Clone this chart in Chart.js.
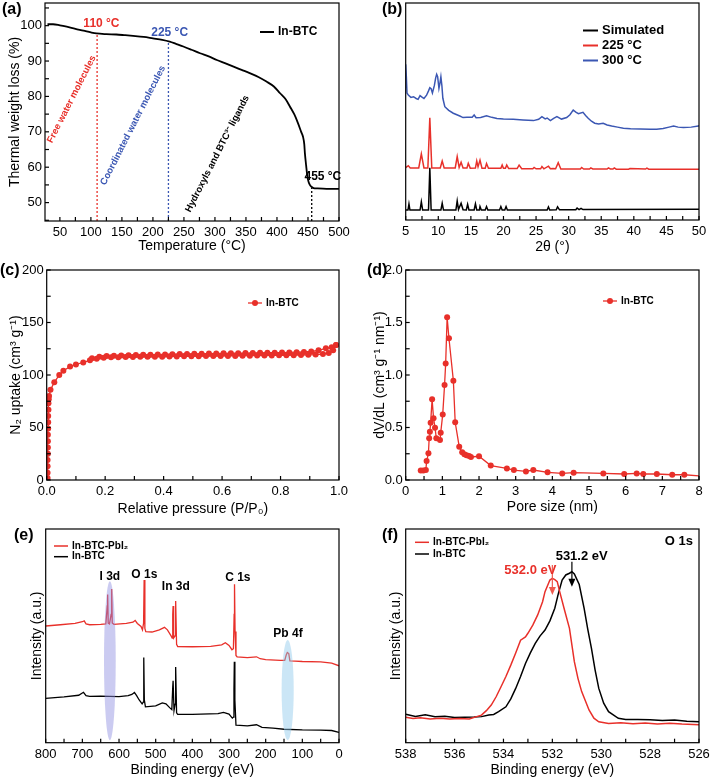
<!DOCTYPE html>
<html>
<head>
<meta charset="utf-8">
<script src="https://cdn.jsdelivr.net/npm/chart.js@4.4.0/dist/chart.umd.min.js"></script>
<style>
body { margin: 0; background: #fff; }
#wrap { position: relative; width: 710px; height: 779px; }
canvas { position: absolute; }
</style>
</head>
<body>
<div id="wrap">
  <canvas id="ca" width="355" height="256" style="left:0;top:0"></canvas>
  <canvas id="cb" width="355" height="256" style="left:355px;top:0"></canvas>
  <canvas id="cc" width="355" height="264" style="left:0;top:255px"></canvas>
  <canvas id="cd" width="355" height="264" style="left:355px;top:255px"></canvas>
  <canvas id="ce" width="355" height="264" style="left:0;top:515px"></canvas>
  <canvas id="cf" width="355" height="264" style="left:355px;top:515px"></canvas>
</div>
<script>
// ---- (a) TGA
const tgaTemp = [30,39,50,61,75,88,100,109,125,141,155,168,185,200,215,227,238,249,262,276,290,303,316,330,343,356,370,383,395,405,414,421,428,434,439,442,444,445,447,449,451,453,456,459,465,480,500];
const tgaWeight = [100.4,100.4,100.1,99.7,99.1,98.6,98.1,97.8,97.6,97.5,97.3,97.1,96.8,96.4,96.0,95.5,94.8,94.1,93.2,92.2,91.3,90.3,89.4,88.4,87.5,86.6,85.5,84.2,82.8,80.9,79.2,77.1,74.9,72.4,70.0,68.6,66.5,64.0,60.5,57.4,55.8,55.0,54.4,54.1,54.0,53.9,53.9];
const stepTemps = [110, 225, 456];      // dashed markers
const stepTops = [97.8, 95.6, 54.1];

// ---- (b) PXRD, offset traces (arbitrary units)
const xrdSim = [[5,4.6],[5.35,4.6],[5.5,7.4],[5.65,4.6],[7.2,4.6],[7.4,8.4],[7.6,4.6],[8.5,4.6],[8.7,24.1],[8.9,4.6],[10.4,4.6],[10.6,7.7],[10.8,4.6],[12.7,4.6],[12.9,8.8],[13.1,4.8],[13.5,7.7],[13.8,4.7],[14.3,4.6],[14.5,7.2],[14.7,4.6],[15.5,4.6],[15.7,7.4],[15.9,4.6],[16.3,4.6],[16.4,6.2],[16.6,4.6],[17.2,4.6],[17.4,6.2],[17.6,4.6],[19.4,4.6],[19.6,6.2],[19.8,4.6],[20.2,4.6],[20.4,6.2],[20.6,4.6],[26.7,4.6],[26.9,6],[27.1,4.6],[28.1,4.7],[28.3,6.1],[28.6,4.7],[31.1,4.7],[31.3,5.5],[31.6,4.8],[31.9,5.4],[32.2,4.8],[50,4.9]];
const xrd225 = [[5,24.1],[5.4,25],[5.7,24],[7,24],[7.4,30.5],[7.8,24],[8.4,24],[8.7,47.1],[9,24],[10.3,24],[10.6,27.2],[10.9,24],[12.6,24],[12.9,29.2],[13.2,24.2],[13.5,26.6],[13.8,24],[14.4,24],[14.6,26.1],[14.9,23.9],[15.7,24],[15.9,27.2],[16.1,24.5],[16.4,27.6],[16.7,23.9],[17.2,23.9],[17.4,26],[17.7,23.8],[19.6,23.8],[19.8,25.3],[20.0,23.8],[20.3,23.8],[20.5,25.3],[20.8,23.7],[22.1,23.7],[22.4,25.3],[22.8,23.6],[24.5,23.6],[24.7,24.2],[25,23.6],[25.7,23.6],[25.9,24.6],[26.2,23.6],[26.9,24.8],[27.2,23.6],[27.6,23.7],[28.0,23.6],[28.4,26.4],[28.8,23.5],[31.8,23.5],[32,24.2],[32.3,23.5],[33.2,23.5],[33.4,24],[33.7,23.5],[35.9,23.5],[36.1,24],[36.4,23.5],[36.8,23.5],[37,24],[37.3,23.4],[39.2,23.4],[39.4,23.7],[41.8,23.5],[42,23.9],[42.3,23.4],[50,23.4]];
const xrd300 = [[5,71.7],[5.1,66],[5.2,58.5],[5.4,57.6],[5.8,56.5],[6.2,56.8],[6.6,56],[6.9,55.6],[7.2,57.3],[7.5,56.6],[7.8,56],[8.2,57.5],[8.5,59.5],[8.7,61],[8.9,60.5],[9.1,58.5],[9.4,62],[9.6,65.5],[9.75,67.1],[9.9,66],[10.1,60.7],[10.25,63],[10.4,66],[10.55,62],[10.7,56.1],[11,52.2],[11.6,50.5],[12.3,49.2],[13.3,47.9],[13.8,47.2],[14.4,47.3],[15.2,47.4],[15.5,48.4],[15.8,47.1],[16.5,47.2],[17.4,48],[18.2,47.3],[19,46.8],[20,46.6],[21.5,46.4],[23,46.1],[24.6,45.8],[25.4,46.4],[25.9,47.6],[26.4,46.6],[26.7,47],[27.2,45.8],[27.7,46.8],[28.2,47.6],[28.9,46.5],[29.7,47.2],[30.2,48.5],[30.7,50.7],[31.1,49.7],[31.5,49],[32.2,49.6],[32.6,48.2],[33,46.9],[33.5,45.5],[34,44.6],[34.6,44.2],[35.3,44.6],[35.9,43.8],[36.6,43.3],[37.5,42.8],[38.4,42.3],[39.5,42],[41,41.9],[42.5,41.8],[43.5,41.8],[44.5,42.2],[45.4,42.8],[46.1,43.3],[46.8,42.8],[47.6,42.6],[48.8,42.8],[49.9,43.3],[50,43.5]];

// ---- (c) N2 isotherm
const adsP = [0.003,0.003,0.003,0.003,0.004,0.004,0.004,0.004,0.005,0.005,0.005,0.006,0.006,0.007,0.008,0.013,0.026,0.043,0.057,0.08,0.1,0.125,0.148,0.171,0.195,0.22,0.245,0.27,0.295,0.32,0.345,0.37,0.395,0.42,0.445,0.47,0.495,0.52,0.545,0.57,0.595,0.62,0.645,0.67,0.695,0.72,0.745,0.77,0.795,0.82,0.845,0.87,0.895,0.92,0.945,0.965,0.98,0.99];
const adsV = [2,7,13,19,25,31,37,43,49,55,61,67,73,77,80,86,93,100,104,108,110,112,114,115.5,116.5,116.8,117,117.1,117.2,117.3,117.4,117.5,117.5,117.6,117.7,117.8,117.8,117.9,118,118,118.1,118.2,118.2,118.3,118.4,118.5,118.5,118.6,118.7,118.8,118.9,119,119.2,119.5,120,121,123.5,128.5];
const desP = [0.99,0.975,0.955,0.93,0.905,0.88,0.855,0.83,0.805,0.78,0.755,0.73,0.705,0.68,0.655,0.63,0.605,0.58,0.555,0.53,0.505,0.48,0.455,0.43,0.405,0.38,0.355,0.33,0.305,0.28,0.255,0.23,0.205,0.18,0.155];
const desV = [128.5,126.5,125.4,123.5,122.4,122,121.7,121.5,121.4,121.3,121.2,121.1,121,120.9,120.8,120.7,120.6,120.5,120.4,120.3,120.2,120,119.9,119.8,119.6,119.5,119.3,119.2,119,118.8,118.6,118.3,118,117.3,116];

// ---- (d) pore size distribution
const poreSize = [0.41,0.48,0.55,0.57,0.62,0.64,0.66,0.68,0.72,0.76,0.80,0.835,0.935,0.955,1.01,1.06,1.09,1.13,1.18,1.30,1.35,1.46,1.54,1.60,1.66,1.73,1.78,2.0,2.32,2.76,2.95,3.28,3.48,3.87,4.27,4.58,5.39,5.96,6.30,6.48,6.85,7.27,7.60,8.0];
const poreDV = [0.09,0.09,0.095,0.18,0.254,0.397,0.46,0.546,0.768,0.587,0.498,0.397,0.38,0.45,0.625,0.905,1.11,1.55,1.35,0.946,0.55,0.317,0.264,0.245,0.235,0.229,0.219,0.226,0.137,0.11,0.095,0.082,0.095,0.073,0.063,0.07,0.063,0.057,0.063,0.057,0.057,0.05,0.05,0.04];

// ---- (e) XPS survey (offset, arbitrary units)
const surveyPbI2 = [[800,54.6],[760,55.2],[720,55.8],[700,56.6],[695,57],[690,55.6],[680,55.2],[650,55.4],[636,55.6],[632,64],[631,69.4],[629.5,56],[626,55.6],[621.5,60],[620,71.9],[618.5,56],[614,55.4],[580,55.8],[562,56.4],[556,57.2],[550,55.8],[540,54.4],[536,52.8],[533,56],[531.5,76.1],[529.5,53.5],[527,52],[510,51.8],[490,52.8],[476,54],[468,52.8],[458,50],[455,49],[453.5,60],[452.5,64],[451,49],[447,50],[445.5,66.3],[443,46],[440,45],[400,44.9],[350,45.1],[320,45.8],[310,46.8],[300,45.5],[292,43.5],[288,44],[286,60],[285,74.1],[283.5,52],[281,40.8],[278,40.2],[250,39.8],[225,40.2],[215,39.3],[200,38.9],[160,38.5],[148,38.5],[144,41],[141,42.2],[137,41.7],[134,38.3],[120,38.2],[100,38],[50,37.8],[20,37.2],[0,36]];
const surveyBTC = [[800,20.7],[750,21.4],[710,22.2],[697,23.6],[690,22],[680,21.7],[650,21.8],[600,21.6],[575,22],[565,22.6],[558,23.5],[552,22],[545,20],[537,18.2],[534,19],[532.5,39.9],[531,20],[528,16.8],[500,17.2],[482,18.6],[472,18.2],[462,16.4],[456,15.5],[453.5,26],[452.5,29],[450,15],[447,18],[445.5,35.4],[443,14],[440,13.3],[400,13.3],[330,13.6],[315,14.2],[300,13.4],[291,11.5],[288,12],[286.5,25],[285.5,37.9],[284,20],[281,8.2],[270,8.1],[250,7.9],[225,8.4],[210,7.2],[180,6.8],[150,6.3],[100,6],[50,5.9],[20,5.7],[0,4.8]];

// ---- (f) O 1s
const o1sPbI2 = [[538,11.9],[537.7,11.3],[537.4,11.7],[537,11.1],[536.6,11.4],[536.2,11.1],[535.8,11.3],[535.4,11.1],[535.1,12.2],[534.9,12.9],[534.7,15],[534.5,17.6],[534.3,21.5],[534.1,26.2],[533.9,31],[533.7,36.3],[533.5,42],[533.3,48],[533.1,49.5],[533.0,51.2],[532.8,55],[532.6,59.8],[532.4,66],[532.3,70.7],[532.1,76.1],[532.0,76.9],[531.9,76.3],[531.8,75.4],[531.7,70.7],[531.5,62],[531.3,53.5],[531.1,37.9],[530.95,30],[530.8,23.9],[530.5,15.3],[530.3,11.5],[530.1,9.8],[529.7,9],[529.2,9.3],[528.7,8.9],[528.2,9.2],[527.7,8.8],[527.2,9.1],[526.7,8.7],[526,8.4]];
const o1sBTC = [[538,13.3],[537.6,12.3],[537.2,13.1],[536.8,12.2],[536.4,12.4],[536,11.8],[535.6,11.9],[535.2,12],[534.9,12.2],[534.6,13],[534.4,13.2],[534.2,14.5],[533.9,16.8],[533.7,20.5],[533.5,25.4],[533.3,31],[533.1,37.1],[532.9,42],[532.7,46.5],[532.5,50],[532.3,52.7],[532.1,57],[531.9,62.9],[531.75,70],[531.6,76.1],[531.45,78.5],[531.3,79.3],[531.2,80],[531.1,79],[530.9,74],[530.7,62.9],[530.55,53],[530.4,44.1],[530.25,34],[530.1,25.4],[529.9,18.5],[529.7,14.5],[529.3,11.4],[529,10.9],[528.5,10.9],[528,10.7],[527.5,10.4],[527,10.6],[526.5,10],[526,9.8]];

const FONT = "'Liberation Sans', Arial, Helvetica, sans-serif";
Chart.defaults.font.family = FONT;
Chart.defaults.color = '#000';
const RED = '#e8302a', BLUE = '#3b57b3', BLACK = '#000';

function pts(xs, ys) { return xs.map((x, i) => ({x: x, y: ys[i]})); }
function pairs(a) { return a.map(p => ({x: p[0], y: p[1]})); }
function steps(a, b, st) { const r = []; for (let v = a; v <= b + 1e-9; v += st) r.push(+v.toFixed(4)); return r; }
function every(step, dec) {
  return v => Math.abs(v / step - Math.round(v / step)) < 1e-6 ? v.toFixed(dec) : '';
}

function xAxis(o) {
  return {
    type: 'linear', min: o.min, max: o.max, reverse: !!o.reverse,
    grid: {display: false, drawTicks: false}, border: {display: false},
    afterBuildTicks: s => { s.ticks = o.ticks.map(v => ({value: v})); },
    ticks: {autoSkip: false, maxRotation: 0, padding: 4, font: {size: 13}, callback: o.label},
    title: {display: true, text: o.title, font: {size: 14}, padding: {top: 0, bottom: o.tp}},
    afterFit: s => { s.height = o.h; s.paddingLeft = 0; s.paddingRight = 0; }
  };
}
function yAxis(o) {
  return {
    type: 'linear', min: o.min, max: o.max,
    grid: {display: false, drawTicks: false}, border: {display: false},
    afterBuildTicks: s => { if (o.ticks) s.ticks = o.ticks.map(v => ({value: v})); },
    ticks: {display: !!o.ticks, autoSkip: false, padding: 3, font: {size: 13}, callback: o.label},
    title: {display: !!o.title, text: o.title, font: {size: 14}, padding: {top: o.tp, bottom: 0}},
    afterFit: s => { s.width = o.w; s.paddingTop = 0; s.paddingBottom = 0; }
  };
}

// frame, inward ticks, notes, legends
const deco = {
  id: 'deco',
  afterDatasetsDraw(chart, args, o) {
    const ctx = chart.ctx, a = chart.chartArea, sx = chart.scales.x, sy = chart.scales.y;
    ctx.save();
    (o.ellipses || []).forEach(e => {
      const cx = sx.getPixelForValue(e.x), cy = sy.getPixelForValue(e.y);
      const rx = Math.abs(sx.getPixelForValue(e.x + e.rx) - cx);
      const ry = Math.abs(sy.getPixelForValue(e.y + e.ry) - cy);
      ctx.fillStyle = e.color;
      ctx.beginPath(); ctx.ellipse(cx, cy, rx, ry, 0, 0, Math.PI * 2); ctx.fill();
    });
    ctx.strokeStyle = '#000'; ctx.lineWidth = 1.2;
    ctx.strokeRect(a.left, a.top, a.right - a.left, a.bottom - a.top);
    [sx, sy].forEach(s => {
      if (!s.options.display || !s.options.ticks.display) return;
      s.ticks.forEach(t => {
        const p = s.getPixelForValue(t.value);
        ctx.beginPath();
        if (s.isHorizontal()) { ctx.moveTo(p, a.bottom); ctx.lineTo(p, a.bottom - 4); }
        else { ctx.moveTo(a.left, p); ctx.lineTo(a.left + 4, p); }
        ctx.stroke();
      });
    });
    (o.arrows || []).forEach(r => {
      const x = sx.getPixelForValue(r.x), y1 = sy.getPixelForValue(r.y1), y2 = sy.getPixelForValue(r.y2);
      ctx.strokeStyle = r.color; ctx.fillStyle = r.color; ctx.lineWidth = 1.2;
      ctx.beginPath(); ctx.moveTo(x, y1); ctx.lineTo(x, y2 - 5); ctx.stroke();
      ctx.beginPath(); ctx.moveTo(x - 3.5, y2 - 8); ctx.lineTo(x + 3.5, y2 - 8); ctx.lineTo(x, y2); ctx.closePath(); ctx.fill();
    });
    (o.texts || []).forEach(t => {
      const x = t.px !== undefined ? t.px : sx.getPixelForValue(t.x);
      const y = t.py !== undefined ? t.py : sy.getPixelForValue(t.y);
      ctx.save();
      ctx.translate(x, y);
      if (t.rot) ctx.rotate(t.rot * Math.PI / 180);
      ctx.font = t.font || 'bold 12px ' + FONT;
      ctx.fillStyle = t.color || '#000';
      ctx.textAlign = t.align || 'center';
      ctx.textBaseline = 'middle';
      ctx.fillText(t.text, 0, 0);
      ctx.restore();
    });
    if (o.legend) {
      const L = o.legend;
      L.items.forEach((it, i) => {
        const y = L.y + i * L.dy;
        ctx.strokeStyle = it.color; ctx.lineWidth = L.lw || 1.5;
        ctx.beginPath(); ctx.moveTo(L.x, y); ctx.lineTo(L.x + L.len, y); ctx.stroke();
        if (it.marker) {
          ctx.fillStyle = it.color;
          ctx.beginPath(); ctx.arc(L.x + L.len / 2, y, 3, 0, Math.PI * 2); ctx.fill();
        }
        ctx.fillStyle = '#000'; ctx.font = L.font; ctx.textAlign = 'left'; ctx.textBaseline = 'middle';
        ctx.fillText(it.text, L.x + L.len + 4, y);
      });
    }
    ctx.restore();
  }
};

function base(pad, plug, scales, datasets) {
  return {
    type: 'scatter',
    data: {datasets: datasets},
    plugins: [deco],
    options: {
      responsive: false, animation: false, events: [],
      layout: {padding: pad},
      plugins: {legend: {display: false}, tooltip: {enabled: false}, deco: plug},
      scales: scales
    }
  };
}
function line(data, color, w) {
  return {data: data, showLine: true, borderColor: color, backgroundColor: color, borderWidth: w, pointRadius: 0};
}
function dashed(x, top, bottom, color) {
  return {data: [{x: x, y: bottom}, {x: x, y: top}], showLine: true, borderColor: color, borderWidth: 1.3, borderDash: [2, 2], pointRadius: 0};
}

// (a)
const aCurve = line(pts(tgaTemp, tgaWeight), BLACK, 1.8);
aCurve.cubicInterpolationMode = 'monotone';
new Chart(document.getElementById('ca'), base(
  {top: 3, right: 16, left: 0, bottom: 0},
  {
    texts: [
      {px: 2, py: 10, text: '(a)', font: 'bold 16px ' + FONT, align: 'left'},
      {x: 117, y: 100.5, text: '110 °C', color: RED},
      {x: 227, y: 98.1, text: '225 °C', color: BLUE},
      {x: 474, y: 57.3, text: '455 °C'},
      {x: 69, y: 79.2, text: 'Free water molecules', color: RED, rot: -63, font: 'bold 9.5px ' + FONT},
      {x: 168, y: 71.8, text: 'Coordinated water molecules', color: BLUE, rot: -63, font: 'bold 9.5px ' + FONT},
      {x: 304, y: 63.8, text: 'Hydroxyls and BTC³⁻ ligands', rot: -63, font: 'bold 9.5px ' + FONT}
    ],
    legend: {x: 260, y: 32, dy: 0, len: 14, lw: 2, font: 'bold 12px ' + FONT, items: [{text: 'In-BTC', color: BLACK}]}
  },
  {
    x: xAxis({min: 26, max: 500, ticks: steps(50, 500, 25), label: every(50, 0), title: 'Temperature (°C)', h: 35, tp: 1.6}),
    y: yAxis({min: 44.8, max: 106.4, ticks: steps(45, 105, 5), label: every(10, 0), title: 'Thermal weight loss (%)', w: 45, tp: 7})
  },
  [aCurve,
   dashed(stepTemps[0], stepTops[0], 44.8, RED),
   dashed(stepTemps[1], stepTops[1], 44.8, BLUE),
   dashed(stepTemps[2], stepTops[2], 44.8, BLACK)]
));

// (b)
new Chart(document.getElementById('cb'), base(
  {top: 3, right: 11, left: 0, bottom: 0},
  {
    texts: [{px: 27, py: 10, text: '(b)', font: 'bold 16px ' + FONT, align: 'left'}],
    legend: {x: 228, y: 30.5, dy: 15, len: 15, lw: 2, font: 'bold 13px ' + FONT,
      items: [{text: 'Simulated', color: BLACK}, {text: '225 °C', color: RED}, {text: '300 °C', color: BLUE}]}
  },
  {
    x: xAxis({min: 5, max: 50, ticks: steps(5, 50, 2.5), label: every(5, 0), title: '2θ (°)', h: 36, tp: 0.9}),
    y: yAxis({min: 0, max: 100, w: 50.7})
  },
  [line(pairs(xrdSim), BLACK, 1.5), line(pairs(xrd225), RED, 1.5), line(pairs(xrd300), BLUE, 1.5)]
));

// (c)
function marked(data, color) {
  return {data: data, showLine: true, borderColor: color, backgroundColor: color, borderWidth: 1.3, pointRadius: 3, pointBorderWidth: 0};
}
new Chart(document.getElementById('cc'), base(
  {top: 15, right: 16, left: 0, bottom: 0},
  {
    texts: [{px: 0, py: 16, text: '(c)', font: 'bold 16px ' + FONT, align: 'left'}],
    legend: {x: 248, y: 48, dy: 0, len: 14, lw: 1.3, font: 'bold 10px ' + FONT, items: [{text: 'In-BTC', color: RED, marker: true}]}
  },
  {
    x: xAxis({min: 0, max: 1, ticks: steps(0, 1, 0.1), label: every(0.2, 1), title: 'Relative pressure (P/P₀)', h: 39, tp: 1.6}),
    y: yAxis({min: 0, max: 200, ticks: steps(0, 200, 25), label: every(50, 0), title: 'N₂ uptake (cm³ g⁻¹)', w: 46.7, tp: 7.6})
  },
  [marked(pts(adsP, adsV), RED), marked(pts(desP, desV), RED)]
));

// (d)
const dSet = marked(pts(poreSize, poreDV), RED);
dSet.pointRadius = poreSize.map((v, i) => i === poreSize.length - 1 ? 0 : 3);
new Chart(document.getElementById('cd'), base(
  {top: 15, right: 11, left: 0, bottom: 0},
  {
    texts: [{px: 12, py: 16, text: '(d)', font: 'bold 16px ' + FONT, align: 'left'}],
    legend: {x: 248, y: 46, dy: 0, len: 14, lw: 1.3, font: 'bold 10px ' + FONT, items: [{text: 'In-BTC', color: RED, marker: true}]}
  },
  {
    x: xAxis({min: 0, max: 8, ticks: steps(0, 8, 0.5), label: every(1, 0), title: 'Pore size (nm)', h: 39, tp: 3.9}),
    y: yAxis({min: 0, max: 2, ticks: steps(0, 2, 0.25), label: every(0.5, 1), title: 'dV/dL (cm³ g⁻¹ nm⁻¹)', w: 50.7, tp: 16.6})
  },
  [dSet]
));

// (e)
new Chart(document.getElementById('ce'), base(
  {top: 14, right: 16, left: 0, bottom: 0},
  {
    ellipses: [
      {x: 625, y: 38.4, rx: 16, ry: 37.2, color: 'rgba(140,140,225,0.45)'},
      {x: 140, y: 24.6, rx: 16.5, ry: 23.4, color: 'rgba(140,200,235,0.45)'}
    ],
    texts: [
      {px: 14, py: 21, text: '(e)', font: 'bold 16px ' + FONT, align: 'left'},
      {x: 625, y: 77.7, text: 'I 3d'},
      {x: 531, y: 78.8, text: 'O 1s'},
      {x: 445, y: 73, text: 'In 3d'},
      {x: 276, y: 77.4, text: 'C 1s'},
      {x: 139, y: 51.2, text: 'Pb 4f'}
    ],
    legend: {x: 54, y: 31, dy: 10.7, len: 14, lw: 1.5, font: 'bold 10px ' + FONT,
      items: [{text: 'In-BTC-PbI₂', color: RED}, {text: 'In-BTC', color: BLACK}]}
  },
  {
    x: xAxis({min: 0, max: 800, reverse: true, ticks: steps(0, 800, 50), label: every(100, 0), title: 'Binding energy (eV)', h: 36.3, tp: 0.6}),
    y: yAxis({min: 0, max: 100, title: 'Intensity (a.u.)', w: 45.7, tp: 28.9})
  },
  [line(pairs(surveyPbI2), RED, 1.3), line(pairs(surveyBTC), BLACK, 1.3)]
));

// (f)
new Chart(document.getElementById('cf'), base(
  {top: 14, right: 11, left: 0, bottom: 0},
  {
    arrows: [
      {x: 532.0, y1: 83.2, y2: 69.1, color: '#ef5a4e'},
      {x: 531.2, y1: 84.7, y2: 73, color: BLACK}
    ],
    texts: [
      {px: 27, py: 21, text: '(f)', font: 'bold 16px ' + FONT, align: 'left'},
      {x: 526.25, y: 94.4, text: 'O 1s', align: 'right', font: 'bold 13px ' + FONT},
      {x: 530.8, y: 87, text: '531.2 eV', font: 'bold 13px ' + FONT},
      {x: 532.9, y: 80.8, text: '532.0 eV', color: RED, font: 'bold 13px ' + FONT}
    ],
    legend: {x: 60, y: 27.3, dy: 11.7, len: 14, lw: 1.5, font: 'bold 10px ' + FONT,
      items: [{text: 'In-BTC-PbI₂', color: RED}, {text: 'In-BTC', color: BLACK}]}
  },
  {
    x: xAxis({min: 526, max: 538, reverse: true, ticks: steps(526, 538, 1), label: every(2, 0), title: 'Binding energy (eV)', h: 36.3, tp: 0.6}),
    y: yAxis({min: 0, max: 100, title: 'Intensity (a.u.)', w: 50.7, tp: 32.3})
  },
  [line(pairs(o1sPbI2), RED, 1.5), line(pairs(o1sBTC), BLACK, 1.5)]
));
</script>
</body>
</html>
